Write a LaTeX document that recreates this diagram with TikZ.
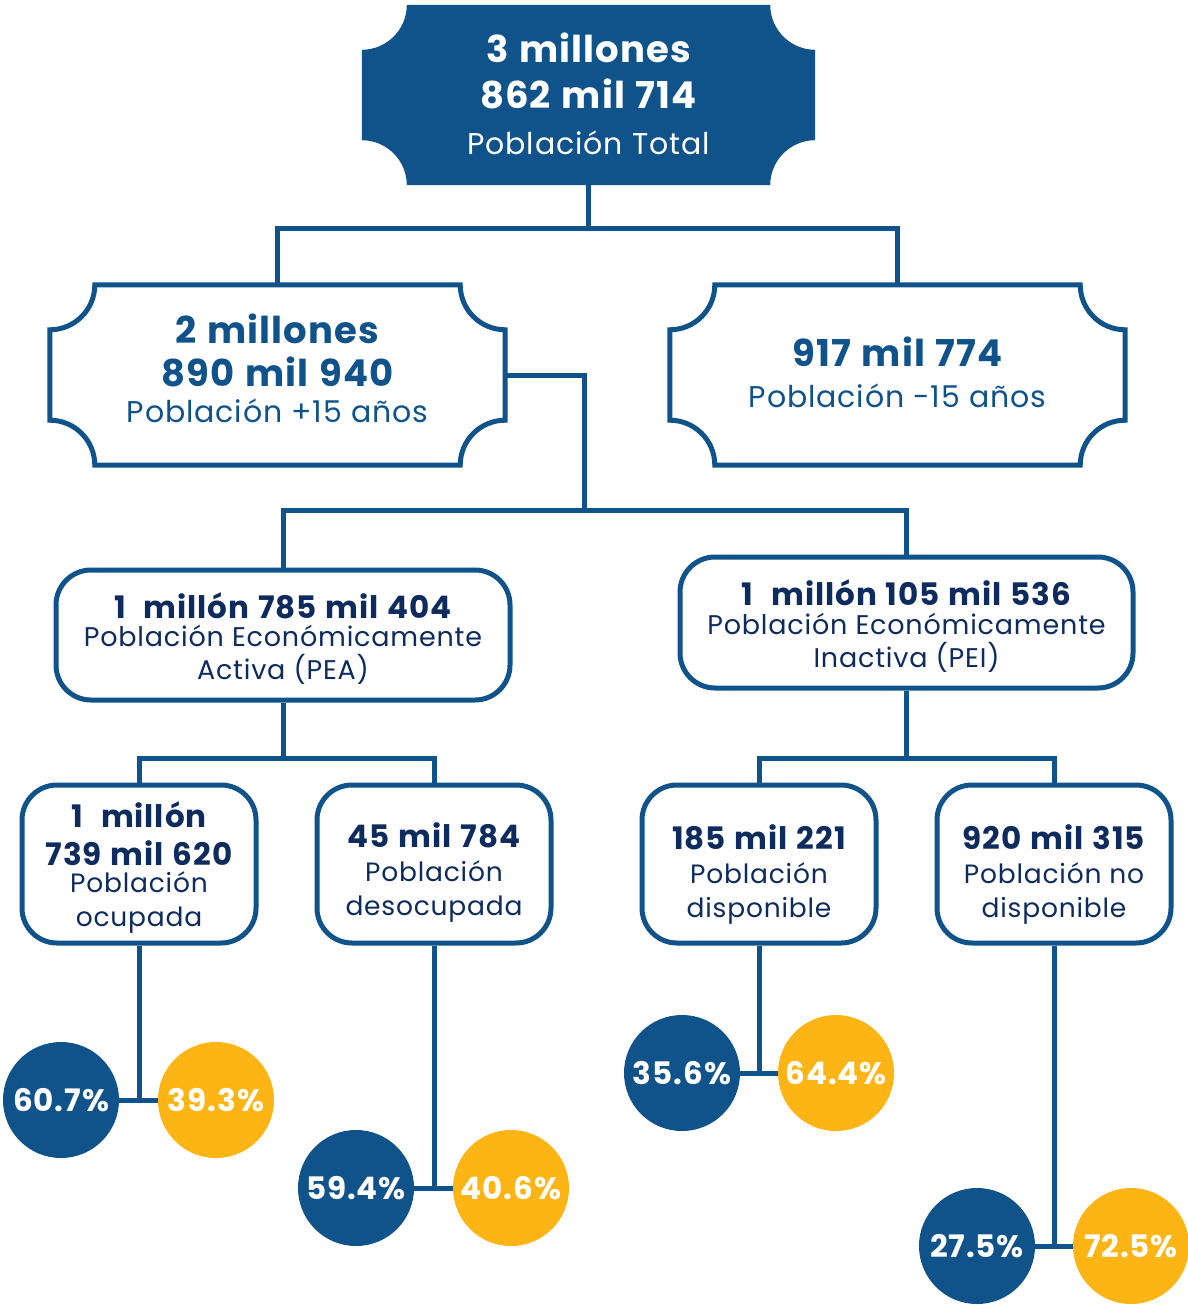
\documentclass[tikz,border=0pt]{standalone}
\usepackage{fontspec}
\setmainfont{Poppins}[LetterSpace=3, BoldFeatures={WordSpace=1.2}]
\usetikzlibrary{calc}
\definecolor{cblue}{HTML}{10538A}
\definecolor{cyel}{HTML}{FDB515}
\definecolor{cnavy}{HTML}{0E2B5E}
\pgfdeclarelayer{bg}
\pgfsetlayers{bg,main}
\newcommand\notchoutline[3]{%
  \path[#3] let \p1=(#1.north west), \p2=(#1.south east) in
  (\x1+#2,\y1) -- (\x2-#2,\y1)
  .. controls (\x2-#2,\y1-0.5523*#2) and (\x2-0.5523*#2,\y1-#2) .. (\x2,\y1-#2)
  -- (\x2,\y2+#2)
  .. controls (\x2-0.5523*#2,\y2+#2) and (\x2-#2,\y2+0.5523*#2) .. (\x2-#2,\y2)
  -- (\x1+#2,\y2)
  .. controls (\x1+#2,\y2+0.5523*#2) and (\x1+0.5523*#2,\y2+#2) .. (\x1,\y2+#2)
  -- (\x1,\y1-#2)
  .. controls (\x1+0.5523*#2,\y1-#2) and (\x1+#2,\y1-0.5523*#2) .. cycle;}
\newcommand\numA[1]{{\bfseries\fontsize{37}{44}\selectfont #1}}
\newcommand\numB[1]{{\bfseries\fontsize{31}{36}\selectfont #1}}
\newcommand\numC[1]{{\bfseries\fontsize{31}{38}\selectfont #1}}
\tikzset{
  x=1pt, y=-1pt,
  notchbox/.style={inner sep=0pt, minimum width=455pt, minimum height=180pt},
  roundbox/.style={draw=cblue, line width=5pt, rounded corners=35pt, inner sep=0pt},
  txt/.style={inner sep=0pt, align=center},
  conn/.style={draw=cblue, line width=5pt},
  pct/.style={circle, minimum size=116pt, inner sep=0pt, text=white,
    font=\bfseries\fontsize{31}{31}\selectfont},
}
\begin{document}
\begin{tikzpicture}
\useasboundingbox (0,0) rectangle (1187,1305);

% boxes
\node[notchbox, minimum width=453pt] (top) at (588.5,95) {};
\node[notchbox] (b2) at (277.5,375) {};
\node[notchbox] (b3) at (897.5,375) {};
\node[roundbox, minimum width=454pt, minimum height=130pt] (pea) at (283,635) {};
\node[roundbox, minimum width=453pt, minimum height=131pt] (pei) at (906.5,622.5) {};
\node[roundbox, minimum width=234pt, minimum height=158pt] (ocup) at (139,864) {};
\node[roundbox, minimum width=234pt, minimum height=158pt] (desoc) at (434,864) {};
\node[roundbox, minimum width=234pt, minimum height=158pt] (disp) at (759,864) {};
\node[roundbox, minimum width=234pt, minimum height=158pt] (nodisp) at (1054,864) {};

\begin{pgfonlayer}{bg}
\fill[white] (0,0) rectangle (1187,1305);
\notchoutline{top}{45pt}{fill=cblue}
\end{pgfonlayer}
\notchoutline{b2}{45pt}{draw=cblue, line width=5pt}
\notchoutline{b3}{45pt}{draw=cblue, line width=5pt}

% texts
\node[txt, text=white, font=\fontsize{30}{46}\selectfont] (topt) at (588.5,93.5)
  {\numA{3 millones}\\ \numA{862 mil 714}\\ Población Total};
\node[txt, text=cblue, font=\fontsize{30}{43}\selectfont] (b2t) at (277.5,368.5)
  {\numA{2 millones}\\ \numA{890 mil 940}\\[-7pt] Población +15 años};
\node[txt, text=cblue, font=\fontsize{30}{41}\selectfont] (b3t) at (897.5,372)
  {\numA{917 mil 774}\\ Población -15 años};
\node[txt, text=cnavy, font=\fontsize{27}{33}\selectfont] (peat) at (283,639)
  {\numB{1~ millón 785 mil 404}\\[-5pt] Población Económicamente\\ Activa (PEA)};
\node[txt, text=cnavy, font=\fontsize{27}{33}\selectfont] (peit) at (906.5,626)
  {\numB{1~ millón 105 mil 536}\\[-4pt] Población Económicamente\\ Inactiva (PEI)};
\node[txt, text=cnavy, font=\fontsize{26.5}{34}\selectfont] (ocupt) at (139,868)
  {\numC{1~ millón}\\[4pt] \numC{739 mil 620}\\[-7pt] Población\\ ocupada};
\node[txt, text=cnavy, font=\fontsize{26.5}{34}\selectfont] (desoct) at (434,873)
  {\numC{45 mil 784}\\ Población\\ desocupada};
\node[txt, text=cnavy, font=\fontsize{26.5}{34}\selectfont] (dispt) at (759,875)
  {\numC{185 mil 221}\\ Población\\ disponible};
\node[txt, text=cnavy, font=\fontsize{26.5}{34}\selectfont] (nodispt) at (1054,875)
  {\numC{920 mil 315}\\ Población no\\ disponible};

% circles
\node[pct, fill=cblue] (c1) at (61,1100) {60.7\%};
\node[pct, fill=cyel] (c2) at (216,1100) {39.3\%};
\node[pct, fill=cblue] (c3) at (356,1188) {59.4\%};
\node[pct, fill=cyel] (c4) at (511,1188) {40.6\%};
\node[pct, fill=cblue] (c5) at (682,1073) {35.6\%};
\node[pct, fill=cyel] (c6) at (836,1073) {64.4\%};
\node[pct, fill=cblue] (c7) at (977,1246) {27.5\%};
\node[pct, fill=cyel] (c8) at (1131,1246) {72.5\%};

% connectors
\coordinate (j1) at (588.5,229);
\coordinate (j2) at (584,510);
\coordinate (j3) at (283,758);
\coordinate (j4) at (906.5,758);
\draw[conn] (top.south) -- (j1);
\draw[conn] (b2.north) |- (j1) -| (b3.north);
\draw[conn] (b2.east) -| (j2);
\draw[conn] (pea.north) |- (j2) -| (pei.north);
\draw[conn] (pea.south) -- (j3);
\draw[conn] (ocup.north) |- (j3) -| (desoc.north);
\draw[conn] (pei.south) -- (j4);
\draw[conn] (disp.north) |- (j4) -| (nodisp.north);
\draw[conn] (ocup.south) -- (ocup.south |- c1.center);
\draw[conn] (c1.east) -- (c2.west);
\draw[conn] (desoc.south) -- (desoc.south |- c3.center);
\draw[conn] (c3.east) -- (c4.west);
\draw[conn] (disp.south) -- (disp.south |- c5.center);
\draw[conn] (c5.east) -- (c6.west);
\draw[conn] (nodisp.south) -- (nodisp.south |- c7.center);
\draw[conn] (c7.east) -- (c8.west);
\end{tikzpicture}
\end{document}
